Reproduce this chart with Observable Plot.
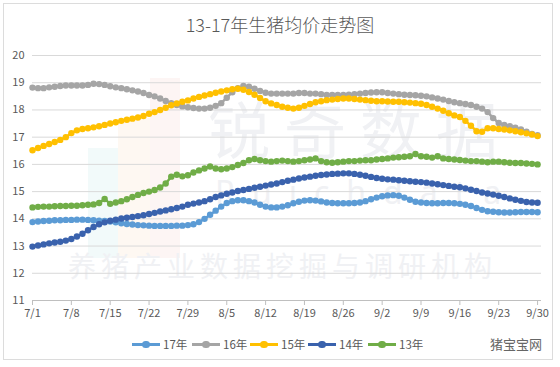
<!DOCTYPE html>
<html>
<head>
<meta charset="utf-8">
<script src="https://cdn.jsdelivr.net/npm/d3@7"></script>
<script src="https://cdn.jsdelivr.net/npm/@observablehq/plot@0.6"></script>
<style>
  html, body { margin: 0; padding: 0; background: #fff; }
  #wrap { position: relative; width: 560px; height: 367px; overflow: hidden; font-family: "Noto Sans CJK SC", "Noto Sans", sans-serif; }
  #frame { position: absolute; left: 3px; top: 3px; width: 550px; height: 357px; border: 1px solid #dcdcdc; box-sizing: border-box; }
  .wm { position: absolute; white-space: nowrap; color: #f0f1f4; font-family: "Noto Sans CJK SC", sans-serif; }
  .bar { position: absolute; }
  #title { position: absolute; left: 0; width: 560px; top: 11px; text-align: center; font-size: 18px; font-weight: 300; color: #595959; }
  #legend { position: absolute; top: 335px; left: 0; width: 560px; height: 18px; font-size: 11.5px; color: #595959; }
  .li { position: absolute; top: 0; height: 18px; display: flex; align-items: center; }
  .sw { position: relative; width: 28px; height: 18px; margin-right: 3px; }
  .sw .ln { position: absolute; left: 0; right: 0; top: 8px; height: 2.5px; }
  .sw .dt { position: absolute; left: 10px; top: 5.5px; width: 7.5px; height: 7.5px; border-radius: 50%; }
  #brand { position: absolute; left: 490px; top: 334px; font-size: 13px; color: #666; }
  #plot { position: absolute; left: 0; top: 0; }
</style>
</head>
<body>
<div id="wrap">
  <div id="frame"></div>
  <div class="bar" style="left:88px;top:148px;width:30px;height:110px;background:#f2fafa"></div>
  <div class="bar" style="left:118px;top:118px;width:32px;height:140px;background:#fef8f2"></div>
  <div class="bar" style="left:150px;top:78px;width:30px;height:180px;background:#fdf5f4"></div>
  <div class="wm" style="left:208px;top:82px;font-size:62px;letter-spacing:14px;">锐奇数据</div>
  <div class="wm" style="left:215px;top:170px;font-size:32px;letter-spacing:17px;font-family:'Noto Sans',sans-serif;">Ruichdata</div>
  <div class="wm" style="left:68px;top:245px;font-size:28px;letter-spacing:5px;">养猪产业数据挖掘与调研机构</div>
  <div id="plot"></div>
  <div id="title">13-17年生猪均价走势图</div>
  <div id="legend"></div>
  <div id="brand">猪宝宝网</div>
</div>
<script>
// ---- data ----
const seriesNames = ["17年", "16年", "15年", "14年", "13年"];
const seriesColors = ["#5b9bd5", "#a5a5a5", "#ffc000", "#3a62ad", "#70ad47"];
const xTickLabels = ["7/1","7/8","7/15","7/22","7/29","8/5","8/12","8/19","8/26","9/2","9/9","9/16","9/23","9/30"];
const yTicks = [11, 12, 13, 14, 15, 16, 17, 18, 19, 20];
const firstDay = "7/1";
const lastDay = "9/30";

const v17 = [
  13.88,13.90,13.92,13.93,13.95,13.95,13.96,
  13.96,13.97,13.97,13.96,13.95,13.93,13.92,
  13.90,13.87,13.84,13.81,13.79,13.77,13.76,
  13.75,13.74,13.74,13.74,13.74,13.75,13.75,
  13.77,13.80,13.88,14.00,14.15,14.30,14.45,
  14.58,14.65,14.68,14.68,14.65,14.60,14.52,
  14.45,14.42,14.42,14.45,14.50,14.57,14.63,
  14.67,14.68,14.67,14.64,14.60,14.58,14.57,
  14.57,14.57,14.58,14.60,14.65,14.72,14.78,
  14.83,14.86,14.87,14.85,14.78,14.70,14.63,
  14.60,14.58,14.57,14.57,14.58,14.58,14.57,
  14.55,14.52,14.47,14.40,14.33,14.28,14.26,
  14.24,14.23,14.23,14.24,14.25,14.25,14.25,
  14.24];
const v16 = [
  18.82,18.80,18.80,18.83,18.85,18.88,18.90,
  18.90,18.90,18.90,18.92,18.96,18.95,18.92,
  18.87,18.83,18.80,18.76,18.72,18.68,18.62,
  18.55,18.50,18.42,18.33,18.25,18.18,18.13,
  18.10,18.07,18.05,18.05,18.08,18.15,18.25,
  18.45,18.65,18.80,18.88,18.85,18.78,18.70,
  18.63,18.60,18.60,18.60,18.60,18.60,18.62,
  18.62,18.60,18.60,18.58,18.55,18.55,18.55,
  18.55,18.56,18.58,18.60,18.62,18.64,18.65,
  18.65,18.62,18.60,18.58,18.56,18.55,18.54,
  18.52,18.50,18.46,18.42,18.38,18.33,18.28,
  18.25,18.22,18.18,18.12,18.05,17.92,17.70,
  17.52,17.45,17.40,17.35,17.28,17.20,17.12,
  17.07];
const v15 = [
  16.52,16.60,16.68,16.75,16.82,16.90,17.00,
  17.15,17.25,17.30,17.33,17.36,17.40,17.45,
  17.50,17.55,17.60,17.64,17.68,17.72,17.78,
  17.86,17.92,18.00,18.08,18.17,18.24,18.30,
  18.35,18.42,18.48,18.53,18.58,18.63,18.68,
  18.72,18.76,18.78,18.74,18.66,18.56,18.44,
  18.32,18.24,18.18,18.12,18.08,18.05,18.08,
  18.15,18.22,18.28,18.32,18.36,18.38,18.40,
  18.42,18.42,18.40,18.38,18.36,18.34,18.32,
  18.32,18.31,18.30,18.30,18.28,18.27,18.25,
  18.23,18.18,18.12,18.05,17.97,17.88,17.80,
  17.74,17.60,17.42,17.22,17.20,17.33,17.33,
  17.30,17.28,17.25,17.22,17.18,17.14,17.10,
  17.04];
const v14 = [
  12.98,13.02,13.06,13.10,13.13,13.16,13.20,
  13.26,13.35,13.45,13.58,13.70,13.80,13.87,
  13.93,13.97,14.01,14.04,14.07,14.10,14.13,
  14.18,14.22,14.27,14.31,14.35,14.40,14.45,
  14.52,14.56,14.60,14.65,14.72,14.80,14.86,
  14.92,14.97,15.02,15.06,15.10,15.14,15.18,
  15.22,15.26,15.30,15.35,15.40,15.44,15.48,
  15.52,15.55,15.58,15.61,15.63,15.65,15.66,
  15.67,15.67,15.65,15.62,15.58,15.54,15.50,
  15.47,15.45,15.44,15.42,15.40,15.38,15.36,
  15.35,15.33,15.30,15.27,15.24,15.21,15.18,
  15.16,15.12,15.07,15.02,14.97,14.93,14.89,
  14.85,14.80,14.75,14.70,14.66,14.62,14.60,
  14.59];
const v13 = [
  14.42,14.44,14.45,14.45,14.46,14.47,14.47,
  14.48,14.48,14.50,14.52,14.53,14.58,14.73,
  14.55,14.60,14.65,14.72,14.80,14.88,14.95,
  15.00,15.06,15.15,15.30,15.55,15.62,15.56,
  15.60,15.70,15.78,15.85,15.92,15.85,15.82,
  15.85,15.90,15.98,16.05,16.15,16.20,16.15,
  16.12,16.10,16.12,16.14,16.12,16.10,16.12,
  16.15,16.18,16.22,16.12,16.08,16.06,16.08,
  16.10,16.12,16.12,16.14,16.15,16.15,16.18,
  16.20,16.22,16.25,16.26,16.28,16.30,16.38,
  16.30,16.28,16.25,16.30,16.22,16.20,16.18,
  16.16,16.14,16.12,16.12,16.10,16.08,16.10,
  16.10,16.08,16.06,16.05,16.05,16.03,16.02,
  16.00];
const seriesValues = [v17, v16, v15, v14, v13];

// ---- build ----
const parseMD = s => { const [m, d] = s.split("/").map(Number); return new Date(Date.UTC(2017, m - 1, d)); };
const days = d3.utcDay.range(parseMD(firstDay), d3.utcDay.offset(parseMD(lastDay), 1));
const tickDates = xTickLabels.map(parseMD);
const rows = [];
seriesNames.forEach((name, si) => {
  seriesValues[si].forEach((v, i) => rows.push({date: days[i], value: v, series: name}));
});

const lineMarks = [];
seriesNames.forEach((name, si) => {
  const data = rows.filter(r => r.series === name);
  lineMarks.push(Plot.line(data, {x: "date", y: "value", stroke: seriesColors[si], strokeWidth: 2.4, curve: "linear"}));
  lineMarks.push(Plot.dot(data, {x: "date", y: "value", fill: seriesColors[si], r: 3.2, stroke: "none"}));
});

const xEnd = new Date(+parseMD(lastDay) + 17 * 3600 * 1000);
const chart = Plot.plot({
  width: 560,
  height: 367,
  marginTop: 55,
  marginBottom: 67,
  marginLeft: 32,
  marginRight: 19,
  style: {background: "transparent", fontFamily: "'Noto Sans CJK SC', 'Noto Sans', sans-serif", fontSize: "11px", color: "#595959"},
  x: {type: "utc", domain: [parseMD(firstDay), xEnd]},
  y: {domain: [11, 20]},
  marks: [
    Plot.ruleY(yTicks.filter(t => t !== 11), {stroke: "#d9d9d9", strokeWidth: 1}),
    Plot.ruleY([11], {stroke: "#bfbfbf", strokeWidth: 1}),
    Plot.axisX({ticks: tickDates, tickFormat: d => xTickLabels[tickDates.findIndex(t => +t === +d)], tickSize: 5, tickPadding: 4, stroke: "#bfbfbf", fill: "#595959", fontSize: 11, label: null}),
    Plot.axisY({ticks: yTicks, tickSize: 0, tickPadding: 8, fill: "#595959", fontSize: 11, label: null}),
    ...lineMarks
  ]
});
document.getElementById("plot").appendChild(chart);

// legend
const legendX = [132, 192, 250, 308, 368];
const legend = document.getElementById("legend");
seriesNames.forEach((name, si) => {
  const it = document.createElement("div");
  it.className = "li";
  it.style.left = legendX[si] + "px";
  it.innerHTML = `<div class="sw"><div class="ln" style="background:${seriesColors[si]}"></div><div class="dt" style="background:${seriesColors[si]}"></div></div><span>${name}</span>`;
  legend.appendChild(it);
});
</script>
</body>
</html>
